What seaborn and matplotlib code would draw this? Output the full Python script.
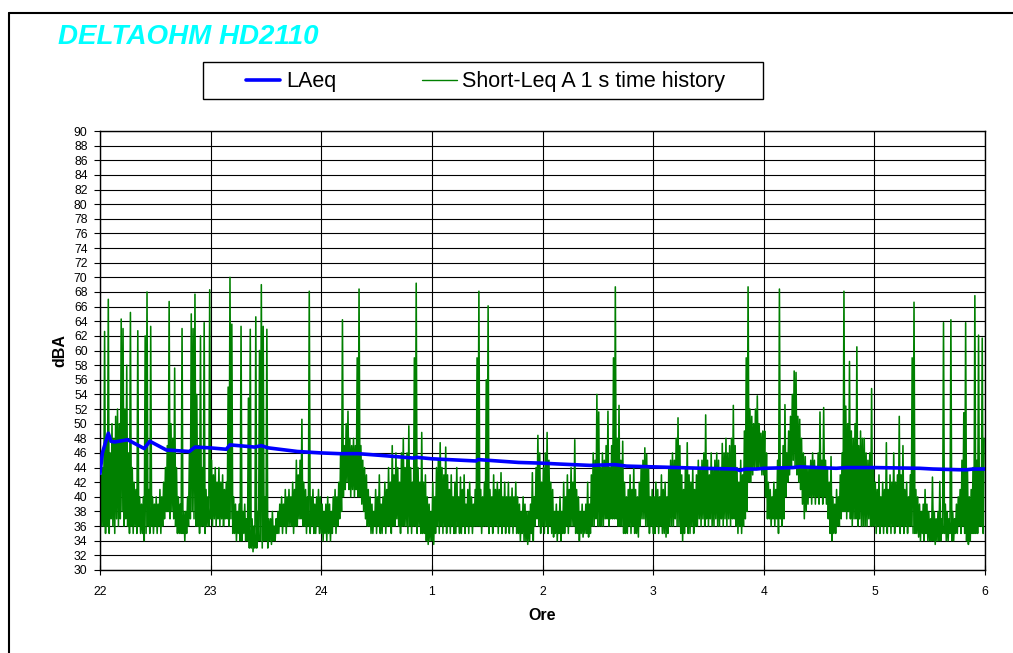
import numpy as np
import pandas as pd
import matplotlib
matplotlib.use("Agg")
import matplotlib.pyplot as plt
import seaborn as sns
from matplotlib.lines import Line2D
from matplotlib.patches import Rectangle

sns.set_theme(style="white")
plt.rcParams['font.family'] = ['Liberation Sans', 'DejaVu Sans']
for k in ['text.color', 'axes.labelcolor', 'xtick.color', 'ytick.color', 'axes.edgecolor']:
    plt.rcParams[k] = 'black'

hour_labels = ['22', '23', '24', '1', '2', '3', '4', '5', '6']

# Short-Leq A 1 s: per minute low / high of the trace (dBA), one list per hour
h22_lo = [38, 36, 36, 35, 36, 35, 37, 36, 35, 37,
          36, 37, 38, 36, 37, 36, 35, 36, 35, 36,
          35, 36, 35, 35, 34, 35, 36, 35, 36, 35,
          36, 35, 36, 35, 36, 37, 38, 38, 37, 38,
          37, 36, 35, 35, 35, 35, 34, 35, 36, 37,
          38, 37, 36, 36, 35, 36, 36, 35, 36, 36]
h22_hi = [43, 44, 62.6, 48, 67, 46, 50, 48, 51, 52,
          50, 64.3, 63, 52, 58, 46, 65.2, 44, 42, 41,
          62.7, 40, 39, 40, 62, 68, 41, 63.3, 40, 39,
          40, 39, 41, 40, 42, 44, 47, 66.7, 50, 48,
          57.6, 44, 40, 39, 63, 38, 38, 40, 46, 65,
          63, 67.7, 54, 47, 62, 44, 63.8, 41, 40, 68.3]

h23_lo = [37, 36, 37, 36, 37, 36, 37, 36, 37, 37,
          36, 37, 35, 35, 34, 35, 34, 34, 35, 34,
          34, 33, 33, 32.5, 33, 33, 34, 34, 33, 34,
          34, 33, 34, 33.5, 34, 34, 35, 35, 36, 35,
          36, 35, 36, 36, 36, 35, 36, 36, 37, 37,
          36, 36, 35, 36, 35, 36, 35, 35, 36, 35]
h23_hi = [45, 43, 44, 42, 44, 42, 43, 41, 42, 55,
          70, 63.6, 40, 39, 38, 39, 63.3, 38, 39, 37,
          53.5, 62.9, 37, 36, 64.6, 38, 60, 69, 63.3, 40,
          62.9, 37, 37, 38, 36, 37, 38, 39, 40, 39,
          41, 40, 41, 40, 42, 41, 45, 43, 45, 50.6,
          42, 41, 40, 68.1, 40, 41, 39, 40, 41, 40]

h24_lo = [35, 34, 35, 34, 35, 34, 35, 36, 35, 36,
          37, 38, 40, 41, 42, 41, 40, 41, 40, 41,
          40, 40, 39, 38, 37, 36, 36, 35, 35, 36,
          35, 36, 35, 35, 36, 35, 36, 36, 35, 36,
          36, 37, 36, 35, 36, 36, 36, 35, 36, 35,
          36, 36, 35, 36, 35, 35, 35, 34, 33.5, 34]
h24_hi = [39, 38, 39, 40, 39, 38, 40, 41, 40, 42,
          46, 64.2, 47, 50, 51.7, 48, 47, 48, 47, 59,
          68.4, 47, 45, 44, 43, 41, 40, 39, 38, 41,
          40, 43, 39, 40, 42, 41, 44, 42, 47, 43,
          46, 44, 42, 46, 48, 44, 46, 49.7, 44, 42,
          59, 69.2, 44, 42, 48.8, 42, 43, 40, 39, 38]

h01_lo = [34, 33.5, 35, 36, 35, 36, 35, 36, 35, 36,
          35, 36, 35, 35, 36, 35, 35, 36, 35, 36,
          35, 36, 35, 36, 36, 36, 36, 35, 36, 36,
          36, 35, 36, 35, 36, 36, 35, 36, 35, 36,
          35, 36, 35, 36, 35, 36, 35, 35, 34, 35,
          34, 34, 33.5, 34, 35, 34, 36, 37, 36, 35]
h01_hi = [42, 40, 44, 45, 47.4, 44, 43, 46.8, 43, 41,
          43, 40, 42, 44, 40, 42.7, 41, 43, 39, 41,
          42, 40, 39, 41, 59, 68.1, 41, 40, 42, 56,
          66.1, 41, 40, 43, 41, 42, 41, 43.3, 40, 42,
          40, 42, 40, 41.2, 40, 42, 40, 39, 38, 40,
          39, 38, 38, 39, 43.3, 40, 44, 48.4, 46, 42]

h02_lo = [36, 35, 36, 35, 36, 35, 34.5, 35, 34, 35,
          34, 35, 35, 36, 35, 36, 36, 36, 35, 35,
          34, 35, 34.5, 35, 35, 34.5, 35, 36, 36, 37,
          36, 36, 36, 36, 37, 37, 36, 37, 37, 37,
          37, 36, 36, 36, 35, 35, 35, 36, 35, 36,
          35, 35, 34.5, 36, 37, 37, 36, 36, 35, 36]
h02_hi = [44, 46, 48.8, 45, 42, 41, 38, 39, 38, 40,
          38, 42, 40, 43, 41, 44, 42, 47.8, 41, 40,
          38, 39, 38, 39, 42, 39, 43, 46, 45, 54,
          51.6, 44, 46, 45, 47, 51.7, 44, 47, 59, 68.7,
          48, 52.5, 45, 47.6, 42, 40, 41, 43, 41, 44,
          41, 40, 42, 44, 45, 46.7, 45.8, 44, 40, 41]

h03_lo = [35, 35, 36, 35, 36, 35, 35, 34.5, 35, 36,
          36, 36, 37, 36, 36, 35, 34, 35, 36, 35,
          35, 36, 35, 36, 36, 37, 36, 37, 36, 37,
          36, 37, 36, 36, 37, 36, 36, 37, 36, 37,
          36, 37, 36, 37, 37, 36, 35, 36, 35, 36,
          37, 38, 42, 42, 43, 44, 44, 44, 44, 43]
h03_hi = [40, 42, 41, 40, 43, 41, 42, 40, 44, 45,
          46, 45, 48, 50.8, 47, 43, 41, 44, 47.4, 43,
          42, 44, 41, 43, 45, 44, 45, 46, 51.2, 45,
          43, 46, 44, 45, 46, 45, 44, 47.3, 46, 48,
          46, 47, 48, 52.5, 47, 44, 42, 45, 43, 49,
          59, 68.7, 52, 51, 50, 52, 53.8, 50, 48.7, 49]

h04_lo = [43, 40, 37, 37, 36, 37, 36, 37, 35, 37,
          36, 37, 40, 42, 43, 44, 45, 44, 43, 42,
          41, 39, 37, 38, 39, 40, 39, 40, 39, 40,
          39, 40, 39, 40, 39, 37, 35, 34, 35, 35,
          36, 36, 37, 38, 38, 37, 38, 37, 36, 37,
          37, 36, 37, 36, 36, 36, 36, 37, 36, 36]
h04_hi = [49, 46, 42, 41, 40, 42, 41, 45, 68.4, 44,
          47, 52.6, 46, 49, 51, 54, 57.2, 57, 51, 50.6,
          48, 46, 45.5, 44, 44, 45, 46, 45, 44, 46,
          51.6, 45, 52.2, 45, 44, 42, 45.5, 40, 39, 41,
          40, 43, 46, 68.1, 52.4, 50, 58.5, 49, 48, 50,
          60.5, 47, 49, 48, 48, 46, 45, 46, 54.8, 44]

h05_lo = [36, 35, 36, 35, 36, 35, 36, 35, 36, 35,
          36, 35, 36, 36, 35, 36, 35, 36, 35, 36,
          36, 35, 35, 35, 34.5, 34, 35, 34, 35, 34,
          34, 34, 34, 33.5, 34, 34, 34, 35, 35, 34,
          34, 35, 34, 34, 35, 35, 36, 35, 36, 35,
          34, 33.5, 34, 35, 35, 35, 35, 36, 36, 35]
h05_hi = [42, 41, 43, 40, 42, 41, 47.4, 41, 43, 42,
          46, 42, 43, 51, 43, 47, 41, 42, 40, 43,
          59, 66.6, 41, 40, 39, 38, 39, 41, 39, 38,
          37, 42.7, 38, 37, 38, 42.1, 37, 63.8, 39, 38,
          37, 64.2, 38, 37, 39, 40, 41, 45, 51.5, 63.8,
          43.5, 40, 41, 44, 67.5, 45, 62.1, 44, 61.7, 48]

# LAeq (running), minutes since 22:00 and dBA
laeq_min = [0, 1.3, 4.5, 5.9, 8, 15, 24, 27, 36, 48.5,
            51.5, 59.5, 68.5, 70.5, 84, 87.5, 91, 107, 120, 130,
            140, 155.5, 170, 171.7, 180, 204, 205, 210, 227, 240,
            247.6, 265.7, 279.2, 285.6, 299.7, 327, 345, 347, 350, 356,
            360, 375.8, 379.4, 399.3, 404.7, 420, 444.6, 451.8, 466, 470,
            473.5, 480]
laeq_val = [43.2, 46, 48.7, 47.6, 47.5, 47.8, 46.6, 47.6, 46.4, 46.2,
            46.8, 46.7, 46.5, 47.1, 46.8, 47.0, 46.7, 46.2, 46.0, 45.9,
            45.9, 45.6, 45.3, 45.4, 45.2, 44.9, 45.1, 45.0, 44.7, 44.6,
            44.5, 44.3, 44.4, 44.2, 44.1, 43.9, 43.8, 43.6, 43.8, 43.8,
            43.9, 44.0, 44.1, 43.9, 44.0, 44.0, 43.9, 43.8, 43.7, 43.7,
            43.8, 43.8]

hours_lo = [h22_lo, h23_lo, h24_lo, h01_lo, h02_lo, h03_lo, h04_lo, h05_lo]
hours_hi = [h22_hi, h23_hi, h24_hi, h01_hi, h02_hi, h03_hi, h04_hi, h05_hi]

rows = []
for i, (lo, hi) in enumerate(zip(hours_lo, hours_hi)):
    for m in range(60):
        rows.append((i + m / 60, lo[m]))
        rows.append((i + (m + 0.5) / 60, hi[m]))
short = pd.DataFrame(rows, columns=['t', 'dba'])
laeq = pd.DataFrame({'t': np.array(laeq_min) / 60, 'dba': laeq_val})

W, H = 1013, 653
fig = plt.figure(figsize=(W / 100, H / 100), dpi=100)
ax = fig.add_axes([100 / W, 1 - 570 / H, 885 / W, 439 / H])

sns.lineplot(data=short, x='t', y='dba', ax=ax, color='#008000', lw=1.15,
             estimator=None, sort=False, zorder=2)
sns.lineplot(data=laeq, x='t', y='dba', ax=ax, color='#0000FF', lw=2.6,
             estimator=None, sort=False, zorder=3)

ax.set_xlim(0, 8)
ax.set_ylim(30, 90)
ax.set_xticks(range(9))
ax.set_xticklabels(hour_labels)
ax.set_yticks(range(30, 91, 2))
ax.grid(True, color='black', lw=0.8)
ax.set_axisbelow(True)
ax.tick_params(axis='y', left=True, direction='out', length=4, width=0.8, labelsize=8.7, pad=5)
ax.tick_params(axis='x', bottom=True, direction='inout', length=7, width=0.8, labelsize=8.7, pad=8)
for s in ax.spines.values():
    s.set_color('black')
    s.set_linewidth(1)

ax.set_xlabel('Ore', fontsize=11.5, fontweight='bold')
ax.set_ylabel('dBA', fontsize=11.5, fontweight='bold')
ax.xaxis.set_label_coords(0.5, -0.087)
ax.yaxis.set_label_coords(-0.037, 0.5)

# legend
handles = [Line2D([], [], color='#0000FF', lw=2.6), Line2D([], [], color='#008000', lw=1.0)]
fig.legend(handles, ['LAeq', 'Short-Leq A 1 s time history'], loc='center left',
           bbox_to_anchor=(246 / W, 1 - 82 / H), ncol=2, frameon=False, fontsize=15.5,
           handlelength=1.6, handletextpad=0.25, columnspacing=4.0,
           borderpad=0, borderaxespad=0)
fig.add_artist(Rectangle((203 / W, 1 - 99 / H), 560 / W, 37 / H, transform=fig.transFigure,
                         fill=False, ec='black', lw=1))

# outer frame (top + left visible)
fig.add_artist(Line2D([9 / W, 9 / W], [0, 1 - 13 / H], transform=fig.transFigure, color='black', lw=1.5))
fig.add_artist(Line2D([9 / W, 1], [1 - 13 / H, 1 - 13 / H], transform=fig.transFigure, color='black', lw=1.5))

fig.text(58 / W, 1 - 37 / H, 'DELTAOHM HD2110', color='#00FFFF', fontsize=20,
         fontweight='bold', fontstyle='italic', ha='left', va='center')

fig.savefig('out.png', dpi=100)
